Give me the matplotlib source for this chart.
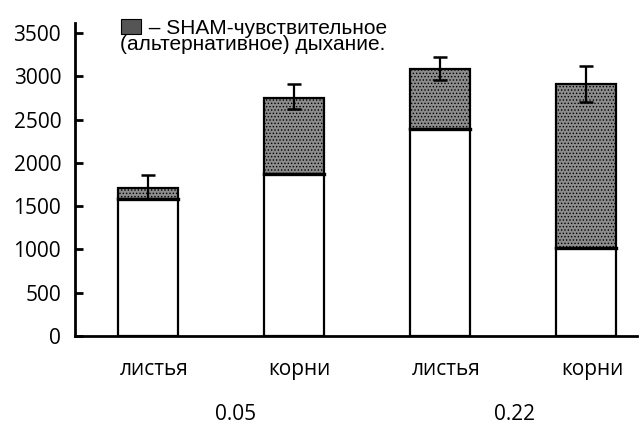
import numpy as np
import matplotlib
matplotlib.use('Agg')
import matplotlib.pyplot as plt

# data
organs = ['листья', 'корни', 'листья', 'корни']
groups = ['0.05', '0.22']
base = [1582, 1871, 2390, 1016]        # white part
total = [1709, 2748, 3083, 2910]       # whole bar
err_up = [150, 162, 139, 208]
err_low = [127, 127, 127, 208]
sham = [t - b for t, b in zip(total, base)]

plt.rcParams['hatch.color'] = '#333333'
plt.rcParams['hatch.linewidth'] = 0.6

fig = plt.figure(figsize=(6.44, 4.26), dpi=100)
ax = fig.add_axes([0.1165, 0.211, 0.873, 0.735])

x = np.arange(len(organs))
w = 0.41
ax.bar(x, base, w, color='white', edgecolor='black', linewidth=1.6, zorder=2)
ax.bar(x, sham, w, bottom=base, color='#8c8c8c', edgecolor='black',
       linewidth=1.6, hatch='.....', zorder=2)
# errorbars first, divider drawn on top of them
ax.errorbar(x, total, yerr=[err_low, err_up], fmt='none', ecolor='black',
            elinewidth=1.6, capsize=5, capthick=1.8, zorder=3)
for xi, b in zip(x, base):
    ax.plot([xi - w / 2, xi + w / 2], [b, b], color='black', lw=2.4, zorder=4)

ax.set_xlim(-0.5, 3.35)
ax.set_ylim(0, 3614)
ax.set_yticks(np.arange(0, 3501, 500))
ax.set_xticks([])
ax.spines['top'].set_visible(False)
ax.spines['right'].set_visible(False)
ax.spines['left'].set_linewidth(2)
ax.spines['bottom'].set_linewidth(2)
ax.tick_params(axis='y', direction='in', length=6, width=2, pad=10,
               labelsize=15)
for lab in ax.get_yticklabels():
    lab.set_fontfamily('Open Sans')

for xi, name in zip(x, organs):
    ax.text(xi + 0.04, -0.106, name, transform=ax.get_xaxis_transform(),
            ha='center', va='center', fontsize=15, family='Open Sans')
# group labels sit under each pair of bars (slightly shifted as in the original)
shift = [0.1, 0.01]
for gi, g in enumerate(groups):
    gx = x[2 * gi:2 * gi + 2].mean() + shift[gi]
    ax.annotate(g, (gx, 1 / 426), xycoords=('data', 'figure fraction'),
                ha='center', va='bottom', fontsize=15, family='Open Sans',
                annotation_clip=False)

# legend drawn by hand like in the original
fig.patches.append(plt.Rectangle((121 / 644, 1 - 34 / 426), 20 / 644, 15 / 426,
                                 transform=fig.transFigure,
                                 facecolor='#555555', edgecolor='black', lw=0.8))
fig.text(120 / 644, 1 - 50 / 426,
         '     – SHAM-чувствительное\n(альтернативное) дыхание.',
         fontsize=15, family='Liberation Sans', va='baseline', ha='left',
         linespacing=0.82)

fig.savefig('out.png', dpi=100)
